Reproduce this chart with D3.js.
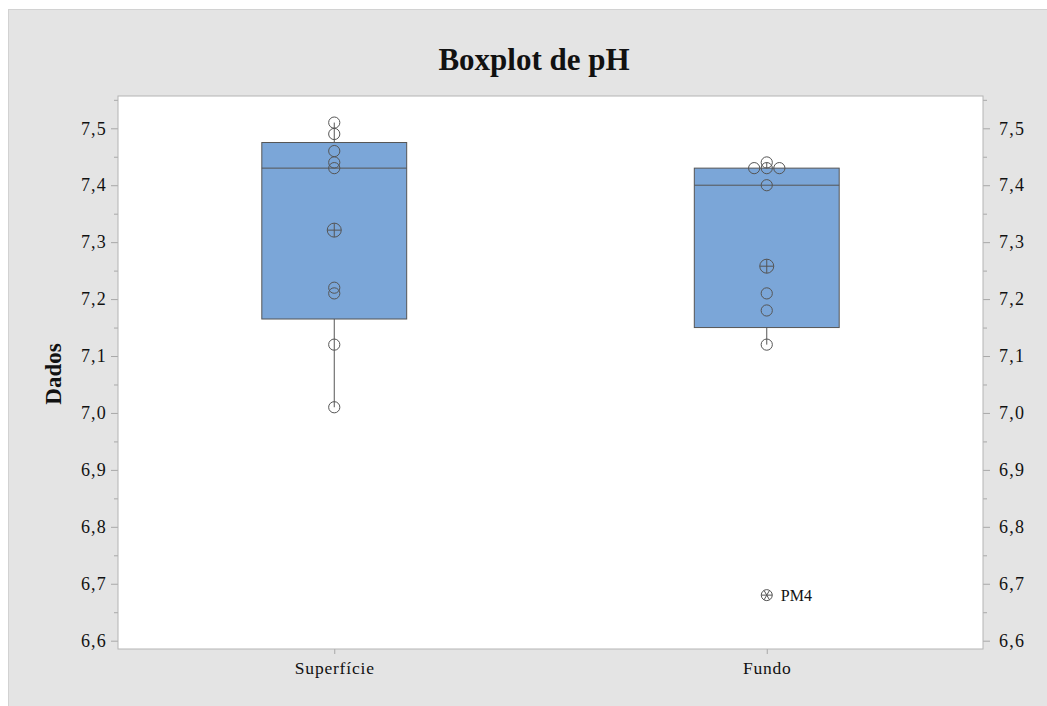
<!DOCTYPE html>
<html>
<head>
<meta charset="utf-8">
<script src="https://cdn.jsdelivr.net/npm/d3@7"></script>
<style>
    body { margin: 0; background: #fff; }
    svg { display: block; }
    text { font-family: "Liberation Serif", "Times New Roman", serif; fill: #111; }
</style>
</head>
<body>
<svg width="1047" height="706"></svg>
<script>
var categories = ["Superfície", "Fundo"];
var superficie = [7.51, 7.49, 7.46, 7.44, 7.43, 7.22, 7.21, 7.12, 7.01];
var fundo = [7.44, 7.43, 7.43, 7.43, 7.40, 7.21, 7.18, 7.12, 6.68];
var outlierLabels = { "Fundo": { value: 6.68, label: "PM4" } };
var majorTicks = [6.6, 6.7, 6.8, 6.9, 7.0, 7.1, 7.2, 7.3, 7.4, 7.5];
var minorTicks = [6.65, 6.75, 6.85, 6.95, 7.05, 7.15, 7.25, 7.35, 7.45, 7.55];
var yDomain = [6.5854, 7.5567];

window.onload = main;

function main() {
    var svg = d3.select("svg");
    var left = 118, right = 983, top = 96, bottom = 649;

    var ptBR = d3.formatLocale({ decimal: ",", thousands: ".", grouping: [3], currency: ["R$", ""] });
    var fmt = ptBR.format(".1f");

    // fundo cinza
    svg.append("rect")
        .attr("x", 8.5).attr("y", 9.5)
        .attr("width", 1047).attr("height", 706)
        .attr("fill", "#e4e4e4")
        .attr("stroke", "#d2d2d2");

    svg.append("rect")
        .attr("x", left).attr("y", top)
        .attr("width", right - left).attr("height", bottom - top)
        .attr("fill", "#fff");

    var y = d3.scaleLinear().domain(yDomain).range([bottom, top]);
    var x = d3.scalePoint().domain(categories).range([left, right]).padding(0.5);
    var boxW = x.step() * 0.335;

    function styleAxis(g) {
        g.select(".domain").remove();
        g.selectAll("line").attr("stroke", "#a8a8a8");
        g.selectAll("text")
            .style("font-size", "18px")
            .style("font-family", "'Liberation Serif', serif")
            .attr("letter-spacing", "1.2px")
            .attr("fill", "#111");
    }

    // eixos
    svg.append("g").attr("transform", "translate(" + left + ",0)")
        .call(d3.axisLeft(y).tickValues(majorTicks).tickFormat(fmt).tickSize(7).tickPadding(4))
        .call(styleAxis);
    svg.append("g").attr("transform", "translate(" + left + ",0)")
        .call(d3.axisLeft(y).tickValues(minorTicks).tickFormat("").tickSize(4))
        .call(styleAxis);
    svg.append("g").attr("transform", "translate(" + right + ",0)")
        .call(d3.axisRight(y).tickValues(majorTicks).tickFormat(fmt).tickSize(7).tickPadding(9))
        .call(styleAxis);
    svg.append("g").attr("transform", "translate(" + right + ",0)")
        .call(d3.axisRight(y).tickValues(minorTicks).tickFormat("").tickSize(4))
        .call(styleAxis);
    svg.append("g").attr("transform", "translate(0," + bottom + ")")
        .call(d3.axisBottom(x).tickSize(5).tickPadding(8))
        .call(styleAxis)
        .selectAll("text").style("font-size", "17.5px").attr("letter-spacing", "0.8px");

    // moldura
    svg.append("rect")
        .attr("x", left).attr("y", top)
        .attr("width", right - left).attr("height", bottom - top)
        .attr("fill", "none")
        .attr("stroke", "#b4b4b4");

    var series = { "Superfície": superficie, "Fundo": fundo };
    var ink = "#555";
    var r = 5.6;

    categories.forEach(function (cat) {
        var vals = series[cat].slice().sort(d3.ascending);
        var n = vals.length;
        function q(p) {
            var pos = p * (n + 1) - 1;
            var lo = Math.floor(pos), hi = Math.ceil(pos);
            return vals[lo] + (vals[hi] - vals[lo]) * (pos - lo);
        }
        var q1 = q(0.25), med = q(0.5), q3 = q(0.75);
        var iqr = q3 - q1;
        var inside = vals.filter(function (v) { return v >= q1 - 1.5 * iqr && v <= q3 + 1.5 * iqr; });
        var outs = vals.filter(function (v) { return inside.indexOf(v) < 0; });
        var lowW = d3.min(inside), highW = d3.max(inside);
        var mean = d3.mean(vals);
        var cx = x(cat);

        var g = svg.append("g");

        g.append("line")
            .attr("x1", cx).attr("x2", cx)
            .attr("y1", y(highW)).attr("y2", y(lowW))
            .attr("stroke", ink);

        g.append("rect")
            .attr("x", cx - boxW / 2).attr("width", boxW)
            .attr("y", y(q3)).attr("height", y(q1) - y(q3))
            .attr("fill", "#7ba6d8")
            .attr("stroke", ink);

        g.append("line")
            .attr("x1", cx - boxW / 2).attr("x2", cx + boxW / 2)
            .attr("y1", y(med)).attr("y2", y(med))
            .attr("stroke", ink);

        // pontos individuais (valores empatados lado a lado)
        var counts = d3.rollup(inside, function (v) { return v.length; }, function (d) { return d; });
        var seen = new Map();
        inside.forEach(function (v) {
            var c = counts.get(v);
            var k = seen.get(v) || 0;
            seen.set(v, k + 1);
            var off = (k - (c - 1) / 2) * r * 2.25;
            g.append("circle")
                .attr("cx", cx + off).attr("cy", y(v)).attr("r", r)
                .attr("fill", "none").attr("stroke", ink);
        });

        // media
        var mr = 7;
        g.append("circle")
            .attr("cx", cx).attr("cy", y(mean)).attr("r", mr)
            .attr("fill", "none").attr("stroke", ink);
        g.append("path")
            .attr("d", "M" + (cx - mr) + "," + y(mean) + "H" + (cx + mr) +
                "M" + cx + "," + (y(mean) - mr) + "V" + (y(mean) + mr))
            .attr("stroke", ink);

        // outliers
        outs.forEach(function (v) {
            var oy = y(v), orr = 5.5;
            g.append("circle")
                .attr("cx", cx).attr("cy", oy).attr("r", orr)
                .attr("fill", "none").attr("stroke", ink);
            [0, 60, 120].forEach(function (a) {
                var rad = a * Math.PI / 180;
                g.append("line")
                    .attr("x1", cx - Math.cos(rad) * orr).attr("y1", oy - Math.sin(rad) * orr)
                    .attr("x2", cx + Math.cos(rad) * orr).attr("y2", oy + Math.sin(rad) * orr)
                    .attr("stroke", ink);
            });
            var lab = outlierLabels[cat];
            if (lab && lab.value === v) {
                g.append("text")
                    .attr("x", cx + 14).attr("y", oy + 6)
                    .style("font-size", "16px")
                    .text(lab.label);
            }
        });
    });

    // titulos
    svg.append("text")
        .attr("x", 534).attr("y", 70)
        .attr("text-anchor", "middle")
        .style("font-size", "31px")
        .style("font-weight", "bold")
        .text("Boxplot de pH");

    svg.append("text")
        .attr("transform", "translate(61,374) rotate(-90)")
        .attr("text-anchor", "middle")
        .style("font-size", "23px")
        .style("font-weight", "bold")
        .text("Dados");
}
</script>
</body>
</html>
